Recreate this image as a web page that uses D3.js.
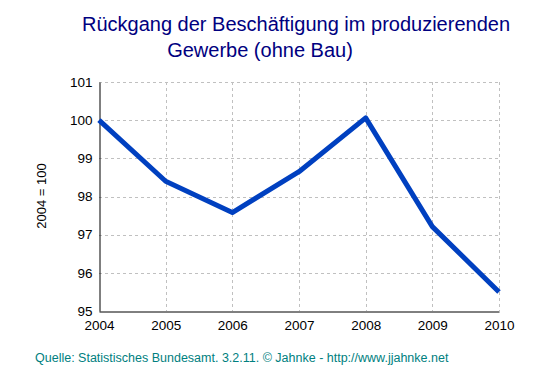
<!DOCTYPE html>
<html><head><meta charset="utf-8">
<script src="https://cdn.jsdelivr.net/npm/d3@7"></script>
<style>body{margin:0;background:#fff}svg{display:block}</style>
</head><body>
<svg id="c" width="553" height="376"></svg>
<script>
const years = [2004, 2005, 2006, 2007, 2008, 2009, 2010];
const values = [100, 98.4, 97.58, 98.65, 100.06, 97.21, 95.5];
const yTicks = [95, 96, 97, 98, 99, 100, 101];
const titleLines = ["Rückgang der Beschäftigung im produzierenden", "Gewerbe (ohne Bau)"];
const yLabel = "2004 = 100";
const source = "Quelle: Statistisches Bundesamt. 3.2.11. © Jahnke - http://www.jjahnke.net";

const svg = d3.select("#c");
const font = "Liberation Sans, Arial, sans-serif";
const x = d3.scaleLinear().domain([2004, 2010]).range([99, 499]);
const y = d3.scaleLinear().domain([95, 101]).range([311, 82]);

// grid
const g = svg.append("g");
g.selectAll(".hg").data(yTicks.filter(t => t !== 95)).join("line")
  .attr("x1", x(2004)).attr("x2", x(2010))
  .attr("y1", d => Math.round(y(d)) + 0.5).attr("y2", d => Math.round(y(d)) + 0.5)
  .attr("stroke", "#c0c0c0").attr("stroke-dasharray", "3,3");
g.selectAll(".vg").data(years.slice(1)).join("line")
  .attr("x1", d => Math.round(x(d)) + 0.5).attr("x2", d => Math.round(x(d)) + 0.5)
  .attr("y1", y(101)).attr("y2", y(95))
  .attr("stroke", "#c0c0c0").attr("stroke-dasharray", "3,3");

// axes
const yAxis = svg.append("g").attr("transform", `translate(${Math.round(x(2004)) + 0.5},0)`)
  .call(d3.axisLeft(y).tickValues(yTicks).tickSize(0).tickPadding(7).tickFormat(d3.format("d")));
yAxis.select(".domain").attr("stroke", "#000");
yAxis.selectAll("text").attr("font-family", font).attr("font-size", 13.5).attr("fill", "#000");

const xAxis = svg.append("g").attr("transform", `translate(0,${Math.round(y(95)) + 0.5})`)
  .call(d3.axisBottom(x).tickValues(years).tickSize(0).tickPadding(9).tickFormat(d3.format("d")));
xAxis.select(".domain").attr("stroke", "#000");
xAxis.selectAll("text").attr("font-family", font).attr("font-size", 13.5).attr("fill", "#000");

// line
svg.append("path").datum(years.map((yr, i) => [yr, values[i]]))
  .attr("fill", "none").attr("stroke", "#0040c0").attr("stroke-width", 5)
  .attr("stroke-linejoin", "round")
  .attr("d", d3.line().x(d => x(d[0])).y(d => y(d[1])));

// title
svg.append("text").attr("x", 296).attr("y", 31).attr("text-anchor", "middle")
  .attr("font-family", font).attr("font-size", 20).attr("fill", "#000080").text(titleLines[0]);
svg.append("text").attr("x", 260).attr("y", 57).attr("text-anchor", "middle")
  .attr("font-family", font).attr("font-size", 20).attr("fill", "#000080").text(titleLines[1]);

// y label
svg.append("text").attr("transform", "translate(46,196) rotate(-90)").attr("text-anchor", "middle")
  .attr("font-family", font).attr("font-size", 13).attr("fill", "#000").text(yLabel);

// source
svg.append("text").attr("x", 35).attr("y", 362)
  .attr("font-family", font).attr("font-size", 12.5).attr("fill", "#008080").text(source);
</script>
</body></html>
